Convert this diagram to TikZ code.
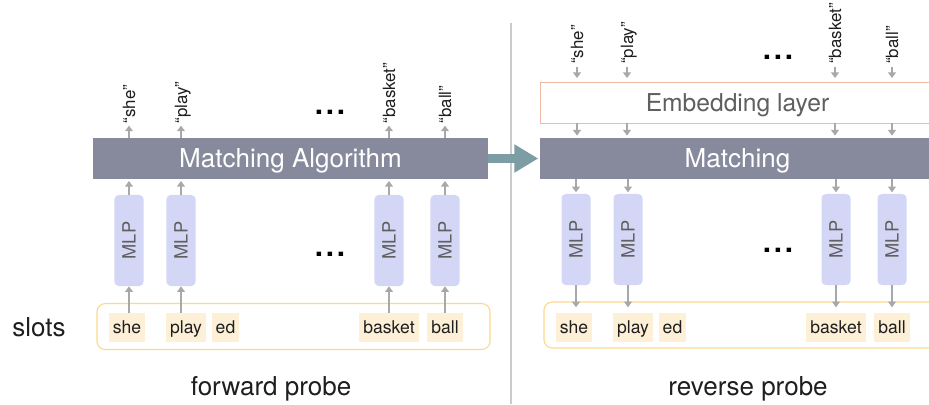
\documentclass[tikz,border=0pt]{standalone}
\usepackage{fontspec}
\setmainfont{TeX Gyre Heros}
\usepackage{tikz}
\usetikzlibrary{arrows.meta, positioning}
\usepackage{xcolor}
\definecolor{barcol}{HTML}{878A9D}
\definecolor{mlpcol}{HTML}{D3D6F5}
\definecolor{wordcol}{HTML}{FDF0D7}
\definecolor{slotcol}{HTML}{FCD98A}
\definecolor{embedcol}{HTML}{F0BBA5}
\definecolor{arrowgray}{HTML}{A8A8A8}
\definecolor{bigcol}{HTML}{7C9DA4}
\definecolor{dividercol}{HTML}{CBCBCB}
\definecolor{txtgray}{HTML}{5F5F5F}
\definecolor{txtdark}{HTML}{1E1E1E}
\newcommand{\gapdots}{.\hspace{2pt}.\hspace{2pt}.}

\begin{document}
\begin{tikzpicture}[
  x=0.025cm, y=-0.025cm,
  bar/.style={fill=barcol, minimum width=9.875cm, minimum height=1.025cm,
    inner sep=0pt, text=white, text height=13pt, text depth=0pt,
    font=\fontsize{18.5}{20}\selectfont},
  layer/.style={draw=embedcol, line width=0.6pt, fill=white,
    minimum width=9.875cm, minimum height=1.025cm, inner sep=0pt,
    text=txtgray, text height=12.6pt, text depth=0pt,
    font=\fontsize{17.5}{20}\selectfont},
  mlp/.style={rotate=90, fill=mlpcol, rounded corners=3pt,
    minimum width=2.275cm, minimum height=0.725cm, inner sep=0pt,
    text=txtgray, text height=9.4pt, text depth=0pt,
    font=\fontsize{13}{15}\selectfont},
  word/.style={fill=wordcol, minimum height=0.725cm, inner xsep=0.1cm,
    inner ysep=0pt, text height=9pt, text depth=0pt, text=txtdark,
    font=\fontsize{12.5}{14}\selectfont},
  slotbox/.style={draw=slotcol, line width=0.8pt, rounded corners=6pt,
    minimum width=9.825cm, minimum height=1.15cm},
  quote/.style={rotate=90, anchor=west, inner sep=0pt, text height=8.6pt,
    text depth=0pt, text=txtdark, font=\fontsize{12}{14}\selectfont},
  lbl/.style={inner sep=0pt, text height=13.3pt, text depth=0pt,
    text=txtdark, font=\fontsize{18.5}{22}\selectfont},
  dots/.style={anchor=base, inner sep=0pt,
    font=\fontsize{21}{22}\selectfont\bfseries},
  flow/.style={draw=arrowgray, line width=1.1pt,
    -{Triangle[length=4pt, width=5.5pt]}},
  handover/.style={draw=bigcol, line width=7pt,
    -{Triangle[length=17pt, width=19pt]}}
]
  \clip (0,0) rectangle (929,404);

  % Divider
  \draw[dividercol, line width=0.8pt] (511,23) -- (511,404);

  %% Forward probe
  \node[lbl, anchor=west] (slots) at (12,327) {slots};
  \node[slotbox] (fslots) at (293.5,326.5) {};
  \foreach \w/\x [count=\i] in {she/127,play/186,ed/225.5,basket/389,ball/445} {
    \node[word] (fw\i) at (\x,327.5) {\w};
  }
  \foreach \x [count=\i] in {129,181,389,445} {
    \node[mlp] (fm\i) at (\x,240.5) {MLP};
  }
  \node[bar] (algo) at (290.5,158.5) {Matching Algorithm};
  \foreach \q/\x [count=\i] in {she/129,play/181,basket/389,ball/445} {
    \node[quote] (fq\i) at (\x,123.5) {“\q”};
  }
  \node[dots] (fdots1) at (330,114.5) {\gapdots};
  \node[dots] (fdots2) at (330,256.5) {\gapdots};

  % Arrows: slots -> MLP -> matching -> words
  \foreach \m/\w in {1/1,2/2,3/4,4/5} {
    \draw[flow] (fw\w.north -| fm\m) -- (fm\m.west);
    \draw[flow, shorten >=1.2pt] (fm\m.east) -- (fm\m |- algo.south);
    \draw[flow, shorten >=1.5pt] (fq\m |- algo.north) -- (fq\m.west);
  }
  \node[lbl] (fwd) at (271,386) {forward probe};

  %% Reverse probe
  \node[slotbox] (rslots) at (740.5,325) {};
  \foreach \w/\x [count=\i] in {she/574,play/633,ed/672.5,basket/836,ball/892} {
    \node[word] (rw\i) at (\x,327) {\w};
  }
  \foreach \x [count=\i] in {576,628,836,892} {
    \node[mlp] (rm\i) at (\x,239.5) {MLP};
  }
  \node[bar] (match) at (737.5,158.5) {Matching};
  \node[layer] (embed) at (737.5,102.5) {Embedding layer};
  \foreach \q/\x [count=\i] in {she/577,play/627,basket/835,ball/892} {
    \node[quote] (rq\i) at (\x,64) {“\q”};
  }
  \node[dots] (rdots1) at (778,59.5) {\gapdots};
  \node[dots] (rdots2) at (778,252.5) {\gapdots};

  % Arrows: words -> embedding -> matching -> MLP -> slots
  \foreach \m/\w in {1/1,2/2,3/4,4/5} {
    \draw[flow, shorten <=2pt, shorten >=2.5pt] (rq\m.west) -- (rq\m |- embed.north);
    \draw[flow, shorten >=1.5pt] (rq\m |- embed.south) -- (rq\m |- match.north);
    \draw[flow, shorten >=1pt] (rm\m |- match.south) -- (rm\m.east);
    \draw[flow, shorten >=3.5pt] (rm\m.west) -- (rm\m |- rw\w.north);
  }
  \node[lbl] (rev) at (748,386) {reverse probe};

  % Forward to reverse
  \draw[handover, shorten >=1pt] (algo.east) -- (match.west);
\end{tikzpicture}
\end{document}
